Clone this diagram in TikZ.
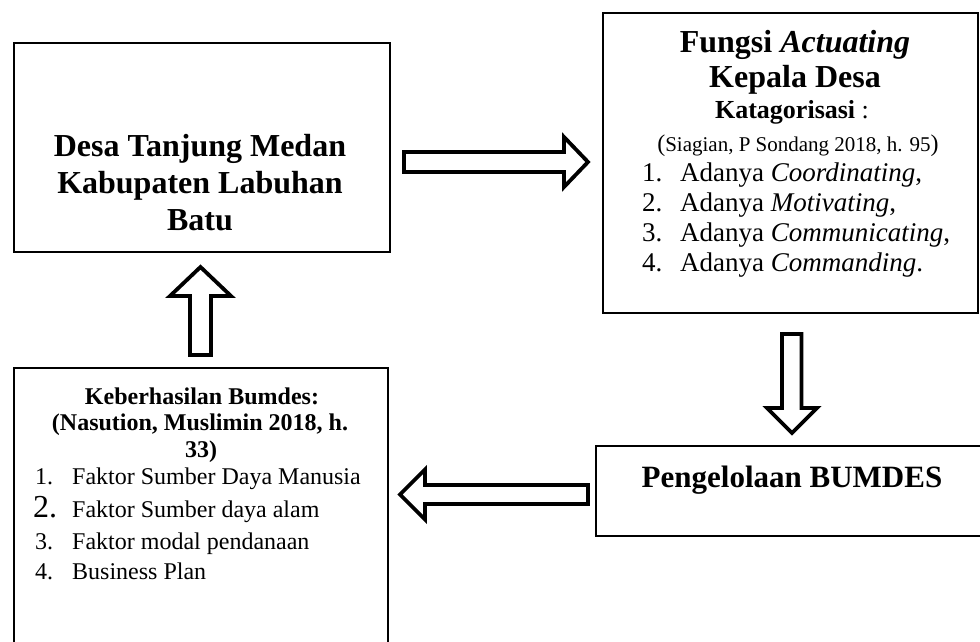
\documentclass[tikz,border=0pt]{standalone}
\usepackage{fontspec}
\setmainfont{Liberation Serif}
\begin{document}
\begin{tikzpicture}[x=1pt,y=-1pt,
  box/.style={draw=black, line width=2.2pt, inner sep=0pt, anchor=north west},
  blockarrow/.style={draw=black, line width=3.8pt, line join=miter, fill=white},
  txt/.style={anchor=base, inner sep=0pt},
  big/.style={font=\fontsize{32}{37}\selectfont\bfseries},
  mid/.style={font=\fontsize{27}{30}\selectfont},
  small/.style={font=\fontsize{24}{28}\selectfont},
  cite/.style={font=\fontsize{21}{24}\selectfont}]
\clip (0,0) rectangle (980,642);
\fill[white] (0,0) rectangle (980,642);

% boxes
\node[box, minimum width=376.5pt, minimum height=209pt] (b1) at (12.5,42) {};
\node[box, minimum width=375pt, minimum height=300pt] (b2) at (602,12) {};
\node[box, minimum width=400pt, minimum height=90pt] (b3) at (595,445) {};
\node[box, minimum width=374pt, minimum height=300pt] (b4) at (13,367) {};

% box 1 text
\node[txt, big] (t1a) at (200,156) {Desa Tanjung Medan};
\node[txt, big] (t1b) at (200,193) {Kabupaten Labuhan};
\node[txt, big] (t1c) at (200,230) {Batu};

% box 2 text
\node[txt, big] (t2a) at (795,53) {Fungsi \textit{Actuating}};
\node[txt, big] (t2b) at (795,88) {Kepala Desa};
\node[txt, font=\fontsize{26}{30}\selectfont] (t2c) at (792,118) {\textbf{Katagorisasi} :};
\node[txt, cite] (t2d) at (798,151) {{\fontsize{24}{24}\selectfont(}Siagian, P Sondang 2018, h. 95{\fontsize{24}{24}\selectfont)}};
\node[txt, mid, anchor=base west] (n1) at (642,181) {1.};
\node[txt, mid, anchor=base west] (i1) at (680,181) {Adanya \textit{Coordinating},};
\node[txt, mid, anchor=base west] (n2) at (642,211) {2.};
\node[txt, mid, anchor=base west] (i2) at (680,211) {Adanya \textit{Motivating},};
\node[txt, mid, anchor=base west] (n3) at (642,241) {3.};
\node[txt, mid, anchor=base west] (i3) at (680,241) {Adanya \textit{Communicating},};
\node[txt, mid, anchor=base west] (n4) at (642,271) {4.};
\node[txt, mid, anchor=base west] (i4) at (680,271) {Adanya \textit{Commanding}.};

% box 3 text
\node[txt, font=\fontsize{31}{34}\selectfont\bfseries] (t3) at (792,487) {Pengelolaan BUMDES};

% box 4 text
\node[txt, font=\fontsize{24}{28}\selectfont\bfseries] (t4a) at (202,404) {Keberhasilan Bumdes:};
\node[txt, font=\fontsize{24}{28}\selectfont\bfseries] (t4b) at (200,430) {(Nasution, Muslimin 2018, h.};
\node[txt, font=\fontsize{24}{28}\selectfont\bfseries] (t4c) at (201,457) {33)};
\node[txt, small, anchor=base west] (m1) at (35,484) {1.};
\node[txt, small, anchor=base west] (j1) at (72,484) {Faktor Sumber Daya Manusia};
\node[txt, font=\fontsize{32}{36}\selectfont, anchor=base west] (m2) at (33,517) {2.};
\node[txt, small, anchor=base west] (j2) at (72,517) {Faktor Sumber daya alam};
\node[txt, small, anchor=base west] (m3) at (35,549) {3.};
\node[txt, small, anchor=base west] (j3) at (72,549) {Faktor modal pendanaan};
\node[txt, small, anchor=base west] (m4) at (35,579) {4.};
\node[txt, small, anchor=base west] (j4) at (72,579) {Business Plan};

% block arrows
% b1 -> b2 (right)
\draw[blockarrow] (404,152) -- (564,152) -- (564,137) -- (588,162) -- (564,187) -- (564,172) -- (404,172) -- cycle;
% b2 -> b3 (down)
\draw[blockarrow] (782,334) -- (801.5,334) -- (801.5,408) -- (817,408) -- (792,433) -- (767,408) -- (782,408) -- cycle;
% b3 -> b4 (left)
\draw[blockarrow] (588,485) -- (425,485) -- (425,469.5) -- (400,494.5) -- (425,519.5) -- (425,504) -- (588,504) -- cycle;
% b4 -> b1 (up)
\draw[blockarrow] (190,355) -- (190,296) -- (170,296) -- (200.5,267) -- (231,296) -- (211,296) -- (211,355) -- cycle;
\end{tikzpicture}
\end{document}
